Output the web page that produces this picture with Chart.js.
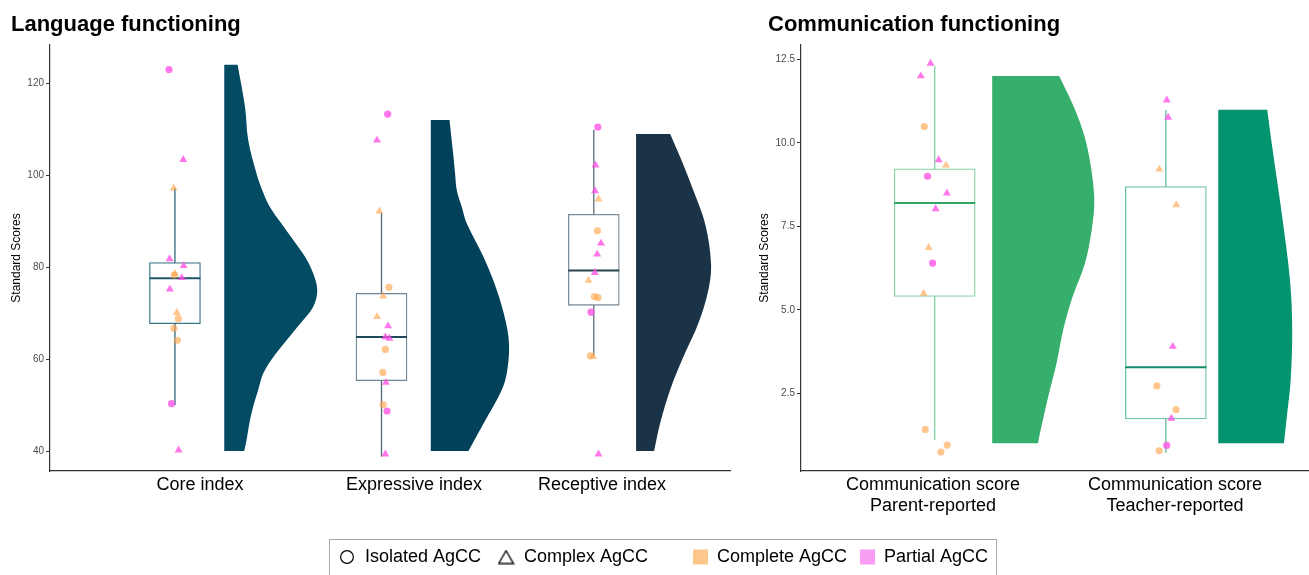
<!DOCTYPE html>
<html>
<head>
<meta charset="utf-8">
<script src="https://cdn.jsdelivr.net/npm/chart.js@4.4.1/dist/chart.umd.min.js"></script>
<style>
html, body { margin:0; padding:0; background:#fff; width:1309px; height:575px; overflow:hidden; position:relative; }
.pane { position:absolute; }
#legendFrame { position:absolute; left:329px; top:539px; width:668px; height:50px; border:1px solid #a8a8a8; box-sizing:border-box; }
</style>
</head>
<body>
<div class="pane" style="left:0;top:0;width:735px;height:530px"><canvas id="lang"></canvas></div>
<div class="pane" style="left:740px;top:0;width:569px;height:530px"><canvas id="comm"></canvas></div>
<div id="legendFrame"></div>
<div class="pane" style="left:322px;top:532px;width:360px;height:140px"><canvas id="legShape"></canvas></div>
<div class="pane" style="left:680px;top:535px;width:330px;height:140px"><canvas id="legGroup"></canvas></div>
<script>
// ===================== DATA =====================
// Language functioning
const langCategories = ['Core index', 'Expressive index', 'Receptive index'];
const langTicks = [40, 60, 80, 100, 120];
// box statistics: [lower whisker, Q1, median, Q3, upper whisker]
const coreBox = [50.0, 67.7, 77.6, 81.0, 97.2];
const expressiveBox = [38.8, 55.3, 64.8, 74.3, 91.8];
const receptiveBox = [60.7, 71.7, 79.3, 91.5, 109.9];
// individual scores, type (Iso = isolated, Cx = complex), group (Com = complete, Par = partial), horizontal jitter
const coreScores = [123.0, 103.4, 97.2, 81.8, 80.3, 78.6, 78.3, 77.7, 75.2, 70.1, 68.8, 66.7, 64.1, 50.3, 40.2];
const coreType   = ['Iso','Cx','Cx','Cx','Cx','Cx','Iso','Cx','Cx','Cx','Iso','Iso','Iso','Iso','Cx'];
const coreGroup  = ['Par','Par','Com','Par','Par','Com','Com','Par','Par','Com','Com','Com','Com','Par','Par'];
const coreJitter = [-0.028, 0.039, -0.006, -0.025, 0.041, -0.001, -0.003, 0.032, -0.024, 0.009, 0.016, -0.005, 0.011, -0.016, 0.017];
const expressiveScores = [113.3, 107.6, 92.2, 75.6, 73.7, 69.2, 67.2, 64.8, 64.5, 62.1, 57.1, 54.9, 50.1, 48.7, 39.3];
const expressiveType   = ['Iso','Cx','Cx','Iso','Cx','Cx','Cx','Cx','Cx','Iso','Iso','Cx','Iso','Iso','Cx'];
const expressiveGroup  = ['Par','Par','Com','Com','Com','Com','Par','Par','Par','Com','Com','Par','Com','Par','Par'];
const expressiveJitter = [0.029, -0.021, -0.010, 0.035, 0.008, -0.021, 0.031, 0.018, 0.037, 0.018, 0.006, 0.021, 0.008, 0.026, 0.018];
const receptiveScores = [110.5, 102.2, 96.6, 94.8, 87.9, 85.2, 82.8, 78.8, 77.1, 73.6, 73.4, 70.2, 60.7, 60.5, 39.3];
const receptiveType   = ['Iso','Cx','Cx','Cx','Iso','Cx','Cx','Cx','Cx','Iso','Iso','Iso','Iso','Cx','Cx'];
const receptiveGroup  = ['Par','Par','Par','Com','Com','Par','Par','Par','Com','Com','Com','Par','Com','Com','Par'];
const receptiveJitter = [0.019, 0.008, 0.006, 0.022, 0.017, 0.034, 0.016, 0.005, -0.025, 0.003, 0.020, -0.013, -0.016, -0.003, 0.022];
// half-violin outlines: score levels and relative density width
const coreDensY = [40, 42.4, 46, 49.6, 53.3, 56.9, 60.5, 64.1, 67.8, 71.4, 75, 78.6, 82.2, 85.9, 89.5, 93.1, 96.7, 100.4, 107.6, 114.9, 124.1];
const coreDens  = [0.215, 0.24, 0.27, 0.31, 0.365, 0.42, 0.53, 0.67, 0.82, 0.957, 1.0, 0.957, 0.87, 0.742, 0.615, 0.491, 0.41, 0.347, 0.258, 0.223, 0.143];
const expressiveDensY = [40, 46, 53.3, 56.9, 62.7, 67.8, 75, 82.2, 89.5, 93.1, 96.7, 100.4, 104, 112];
const expressiveDens  = [0.405, 0.567, 0.763, 0.817, 0.842, 0.81, 0.71, 0.567, 0.387, 0.333, 0.28, 0.261, 0.244, 0.201];
const receptiveDensY = [40, 46, 53.3, 60.5, 67.8, 75, 80.8, 89.5, 96.7, 104, 109];
const receptiveDens  = [0.194, 0.258, 0.366, 0.509, 0.67, 0.777, 0.806, 0.742, 0.616, 0.473, 0.366];

// Communication functioning
const commCategories = [['Communication score', 'Parent-reported'], ['Communication score', 'Teacher-reported']];
const commTicks = [2.5, 5.0, 7.5, 10.0, 12.5];
const parentBox = [1.1, 5.40, 8.2, 9.22, 12.3];
const teacherBox = [0.72, 1.73, 3.28, 8.69, 10.98];
const parentScores = [12.38, 12.0, 10.49, 9.49, 9.33, 9.0, 8.49, 8.02, 6.86, 6.4, 5.49, 1.42, 0.95, 0.74];
const parentType   = ['Cx','Cx','Iso','Cx','Cx','Iso','Cx','Cx','Cx','Iso','Cx','Iso','Iso','Iso'];
const parentGroup  = ['Par','Par','Com','Par','Com','Par','Par','Par','Com','Par','Com','Com','Com','Com'];
const parentJitter = [-0.018, -0.060, -0.045, 0.017, 0.049, -0.031, 0.053, 0.004, -0.026, -0.009, -0.048, -0.041, 0.054, 0.027];
const teacherScores = [11.28, 10.76, 9.21, 8.14, 3.9, 2.72, 2.01, 1.75, 0.94, 0.78];
const teacherType   = ['Cx','Cx','Cx','Cx','Cx','Iso','Iso','Cx','Iso','Iso'];
const teacherGroup  = ['Par','Par','Com','Com','Par','Com','Com','Par','Par','Com'];
const teacherJitter = [0.004, 0.010, -0.028, 0.045, 0.030, -0.039, 0.044, 0.024, 0.004, -0.029];
const parentDensY = [1.0, 1.4, 2.4, 3.4, 4.4, 5.39, 6.39, 7.39, 8.39, 9.88, 10.88, 12.0];
const parentDens  = [0.448, 0.475, 0.549, 0.631, 0.696, 0.788, 0.909, 0.975, 1.0, 0.931, 0.827, 0.657];
const teacherDensY = [1.0, 1.9, 2.9, 4.4, 5.89, 7.89, 9.88, 11.0];
const teacherDens  = [0.644, 0.676, 0.71, 0.725, 0.703, 0.622, 0.529, 0.48];

// ===================== LAYOUT & STYLE =====================
const FONT = "'Liberation Sans', Arial, Helvetica, sans-serif";
const GROUP_COLOR = { Com: 'rgba(255,163,72,0.62)', Par: 'rgba(255,80,228,0.78)' };
const LEGEND_COLOR = { Com: '#fdc68a', Par: '#f99cf3' };

const langLayout = {
  xMin: 0.4, xMax: 3.6, yMin: 35.65, yMax: 128.34,
  boxPos: [0.988, 1.960, 2.959], violinPos: [1.220, 2.192, 3.158], labelPos: [1.106, 2.113, 2.998],
  violinMax: 0.4376, boxPx: 51,
  violinColor: ['#034b63', '#02415a', '#1b3347'],
  boxColor: ['#3a7689', '#6a8593', '#7c8c98'],
  whiskerColor: ['#2f6a7e', '#4f6878', '#5d6e7b'],
  medianColor: ['#1d566b', '#1f4a5c', '#2b4252']
};
const commLayout = {
  xMin: 0.4, xMax: 2.6, yMin: 0.174, yMax: 12.93,
  boxPos: [0.979, 1.980], violinPos: [1.228, 2.207], labelPos: [0.972, 2.020],
  violinMax: 0.4418, boxPx: 81,
  violinColor: ['#36ae6c', '#03936f'],
  boxColor: ['#84d2a6', '#6cc4aa'],
  whiskerColor: ['#84d2a6', '#62baa0'],
  medianColor: ['#2ea866', '#17896c']
};

function buildDatasets(L, groups) {
  const ds = [];
  groups.forEach((g, i) => {
    ds.push({
      type: 'line', indexAxis: 'y',
      data: g.densY.map((y, k) => ({ x: L.violinPos[i] + g.dens[k] * L.violinMax, y: y })),
      borderWidth: 0, borderColor: 'rgba(0,0,0,0)', backgroundColor: L.violinColor[i],
      fill: { value: L.violinPos[i] }, tension: 0.35, pointRadius: 0, order: 5
    });
    ds.push({
      type: 'line',
      data: [{ x: L.boxPos[i], y: g.box[0] }, { x: L.boxPos[i], y: g.box[4] }],
      borderColor: L.whiskerColor[i], borderWidth: 1.3, pointRadius: 0, fill: false, order: 4
    });
  });
  ds.push({
    type: 'bar',
    data: groups.map((g, i) => ({ x: L.boxPos[i], y: [g.box[1], g.box[3]] })),
    backgroundColor: '#ffffff', borderColor: L.boxColor, borderWidth: 1.3,
    borderSkipped: false, barThickness: L.boxPx, order: 3
  });
  ds.push({
    type: 'scatter',
    data: groups.map((g, i) => ({ x: L.boxPos[i], y: g.box[2] })),
    pointStyle: 'line', pointRadius: L.boxPx / 2, pointBorderColor: L.medianColor,
    borderColor: L.medianColor, pointBorderWidth: 2, order: 2
  });
  const pts = [], styles = [], colors = [], radii = [];
  groups.forEach((g, i) => {
    g.scores.forEach((v, k) => {
      pts.push({ x: L.boxPos[i] + g.jitter[k], y: v });
      styles.push(g.type[k] === 'Iso' ? 'circle' : 'triangle');
      colors.push(GROUP_COLOR[g.group[k]]);
      radii.push(g.type[k] === 'Iso' ? 3.6 : 4.6);
    });
  });
  ds.push({
    type: 'scatter', data: pts, pointStyle: styles, pointRadius: radii,
    pointBackgroundColor: colors, backgroundColor: colors, pointBorderWidth: 0, borderWidth: 0, order: 1
  });
  return ds;
}

function panelOptions(L, title, padLeft, padRight, yWidth, yTitlePad, cats, ticks, tickFmt) {
  return {
    responsive: true, maintainAspectRatio: false, animation: false, events: [],
    layout: { autoPadding: false, padding: { left: padLeft, right: padRight, top: 0, bottom: 0 } },
    plugins: {
      legend: { display: false }, tooltip: { enabled: false },
      title: { display: true, text: title, align: 'start', color: '#000',
               font: { size: 22, weight: 'bold', family: FONT }, padding: { top: 11.7, bottom: 6.9 } }
    },
    scales: {
      x: {
        type: 'linear', min: L.xMin, max: L.xMax, offset: false,
        grid: { display: false, drawTicks: false }, border: { display: true, color: '#333', width: 1.2 },
        afterBuildTicks: s => { s.ticks = L.labelPos.map(v => ({ value: v })); },
        ticks: { callback: (v, i) => cats[i], color: '#000', font: { size: 18, family: FONT, lineHeight: 1.2 },
                 padding: 3, maxRotation: 0, minRotation: 0, autoSkip: false },
        afterFit: s => { s.height = 59; s.paddingLeft = 0; s.paddingRight = 0; }
      },
      y: {
        type: 'linear', min: L.yMin, max: L.yMax,
        afterBuildTicks: s => { s.ticks = ticks.map(v => ({ value: v })); },
        grid: { display: true, drawOnChartArea: false, drawTicks: true, tickLength: 4, color: '#333', lineWidth: 1 },
        border: { display: true, color: '#333', width: 1.2 },
        ticks: { color: '#4d4d4d', font: { size: 10, family: FONT }, padding: 2, callback: tickFmt },
        title: { display: true, text: 'Standard Scores', color: '#000', font: { size: 12, family: FONT },
                 padding: { top: yTitlePad, bottom: 0 } },
        afterFit: s => { s.width = yWidth; s.paddingTop = 0; s.paddingBottom = 0; }
      }
    }
  };
}

new Chart(document.getElementById('lang'), {
  type: 'scatter',
  data: { datasets: buildDatasets(langLayout, [
    { box: coreBox, scores: coreScores, type: coreType, group: coreGroup, jitter: coreJitter, densY: coreDensY, dens: coreDens },
    { box: expressiveBox, scores: expressiveScores, type: expressiveType, group: expressiveGroup, jitter: expressiveJitter, densY: expressiveDensY, dens: expressiveDens },
    { box: receptiveBox, scores: receptiveScores, type: receptiveType, group: receptiveGroup, jitter: receptiveJitter, densY: receptiveDensY, dens: receptiveDens }
  ]) },
  options: panelOptions(langLayout, 'Language functioning', 11, 5, 39, -2, langCategories, langTicks, v => String(v))
});

new Chart(document.getElementById('comm'), {
  type: 'scatter',
  data: { datasets: buildDatasets(commLayout, [
    { box: parentBox, scores: parentScores, type: parentType, group: parentGroup, jitter: parentJitter, densY: parentDensY, dens: parentDens },
    { box: teacherBox, scores: teacherScores, type: teacherType, group: teacherGroup, jitter: teacherJitter, densY: teacherDensY, dens: teacherDens }
  ]) },
  options: panelOptions(commLayout, 'Communication functioning', 28, 0, 33, -10.5, commCategories, commTicks, v => Number(v).toFixed(1))
});

// legend glyph for the open triangle (slightly larger than the built-in triangle)
const triGlyph = document.createElement('canvas');
triGlyph.width = 17; triGlyph.height = 15;
(function () {
  const c = triGlyph.getContext('2d');
  c.strokeStyle = '#000'; c.lineWidth = 1.3; c.lineJoin = 'miter';
  c.beginPath(); c.moveTo(1.2, 13.8); c.lineTo(15.8, 13.8); c.lineTo(8.5, 1.2); c.closePath(); c.stroke();
})();

function legendChart(id, items, labelOpts) {
  new Chart(document.getElementById(id), {
    type: 'scatter', data: { datasets: [] },
    options: {
      responsive: true, maintainAspectRatio: false, animation: false, events: [],
      layout: { padding: 0 },
      scales: { x: { display: false }, y: { display: false } },
      plugins: {
        tooltip: { enabled: false }, title: { display: false },
        legend: { display: true, position: 'top', align: 'start',
          labels: Object.assign({ generateLabels: () => items, color: '#000', font: { size: 18, family: FONT } }, labelOpts) }
      }
    }
  });
}
legendChart('legShape', [
  { text: 'Isolated AgCC', pointStyle: 'circle', fillStyle: '#fff', strokeStyle: '#000', lineWidth: 1.2, hidden: false },
  { text: 'Complex AgCC', pointStyle: triGlyph, fillStyle: '#fff', strokeStyle: '#000', lineWidth: 1.2, hidden: false }
], { usePointStyle: true, boxWidth: 18, boxHeight: 9, padding: 16 });
legendChart('legGroup', [
  { text: 'Complete AgCC', fillStyle: LEGEND_COLOR.Com, strokeStyle: 'rgba(0,0,0,0)', lineWidth: 0, hidden: false },
  { text: 'Partial AgCC', fillStyle: LEGEND_COLOR.Par, strokeStyle: 'rgba(0,0,0,0)', lineWidth: 0, hidden: false }
], { usePointStyle: false, boxWidth: 15, boxHeight: 15, padding: 13 });
</script>
</body>
</html>
